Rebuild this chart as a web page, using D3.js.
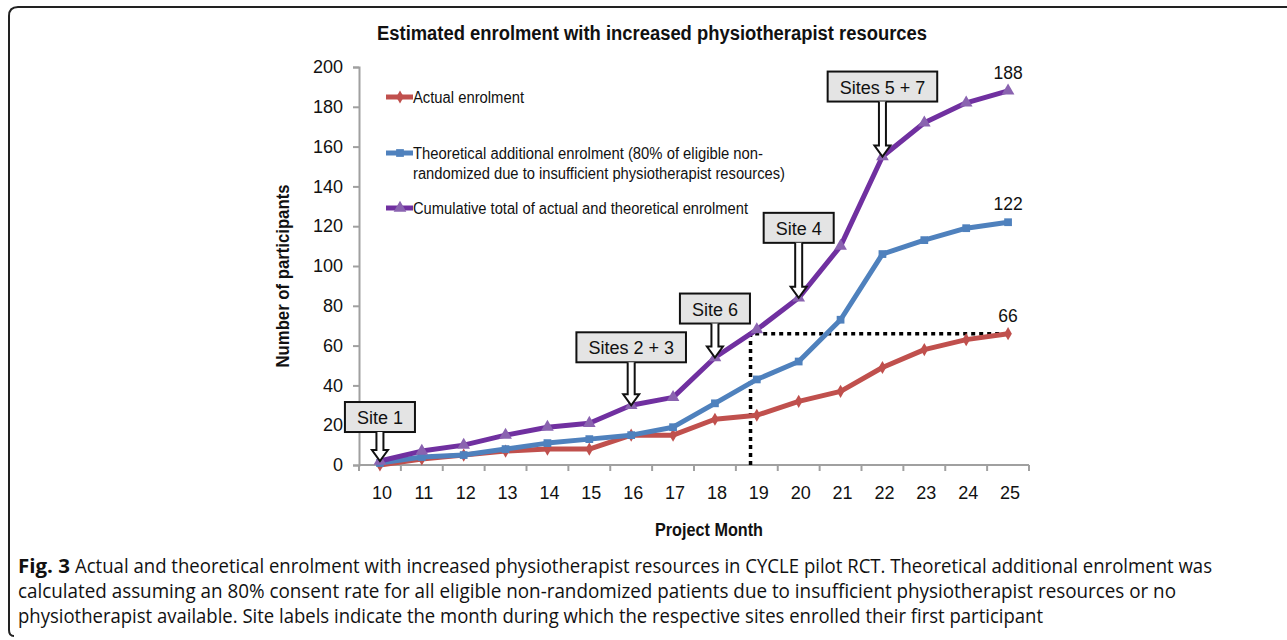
<!DOCTYPE html>
<html>
<head>
<meta charset="utf-8">
<script src="https://cdn.jsdelivr.net/npm/d3@7"></script>
<style>
	body { margin: 0; background: #fff; }
	text { font-family: "Liberation Sans", Arial, sans-serif; fill: #111; }
</style>
</head>
<body>
<div id="chart"></div>
<script>
var months = [10, 11, 12, 13, 14, 15, 16, 17, 18, 19, 20, 21, 22, 23, 24, 25];
var actual = [0, 3, 5, 7, 8, 8, 15, 15, 23, 25, 32, 37, 49, 58, 63, 66];
var theoretical = [1, 4, 5, 8, 11, 13, 15, 19, 31, 43, 52, 73, 106, 113, 119, 122];
var cumulative = [2, 7, 10, 15, 19, 21, 30, 34, 54, 68, 84, 110, 155, 172, 182, 188];
var yTicks = [0, 20, 40, 60, 80, 100, 120, 140, 160, 180, 200];
var siteLabels = ['Site 1', 'Sites 2 + 3', 'Site 6', 'Site 4', 'Sites 5 + 7'];
var siteMonths = [10, 16, 18, 20, 22];
var refMonth = 18.85;
var refValue = 66;
var legendLabels = [
	['Actual enrolment'],
	['Theoretical additional enrolment (80% of eligible non-', 'randomized due to insufficient physiotherapist resources)'],
	['Cumulative total of actual and theoretical enrolment']
];
var captionLines = [
	'Actual and theoretical enrolment with increased physiotherapist resources in CYCLE pilot RCT. Theoretical additional enrolment was',
	'calculated assuming an 80% consent rate for all eligible non-randomized patients due to insufficient physiotherapist resources or no',
	'physiotherapist available. Site labels indicate the month during which the respective sites enrolled their first participant'
];

var width = 1287, height = 640;

var svg = d3.select('#chart').append('svg')
	.attr('width', width)
	.attr('height', height);

// frame (left + top edges, rounded corner)
svg.append('path')
	.attr('d', 'M14,636 Q9,636 9,630 L9,16 Q9,7 18,7 L1287,7')
	.attr('fill', 'none')
	.attr('stroke', '#222')
	.attr('stroke-width', 2);

var x = d3.scaleLinear().domain([9.5, 25.5]).range([359, 1029]);
var y = d3.scaleLinear().domain([0, 200]).range([465, 67]);

var series = [
	{ values: actual, color: '#c0504d', marker: d3.symbolDiamond, mfill: '#c0504d', msize: 50 },
	{ values: theoretical, color: '#4f81bd', marker: d3.symbolSquare, mfill: '#4f81bd', msize: 60 },
	{ values: cumulative, color: '#7030a0', marker: d3.symbolTriangle, mfill: '#8a63b0', msize: 70 }
];

// title
svg.append('text')
	.attr('x', 652)
	.attr('y', 40)
	.attr('text-anchor', 'middle')
	.style('font-size', '19.5px')
	.style('font-weight', 'bold')
	.attr('textLength', 550)
	.attr('lengthAdjust', 'spacingAndGlyphs')
	.text('Estimated enrolment with increased physiotherapist resources');

// y axis
var yAxis = svg.append('g')
	.attr('transform', 'translate(359,0)')
	.call(d3.axisLeft(y).tickValues(yTicks).tickSize(6).tickPadding(10));
yAxis.select('.domain').attr('stroke', '#a0a0a0').attr('stroke-width', 2);
yAxis.selectAll('.tick line').attr('stroke', '#a0a0a0').attr('stroke-width', 2);
yAxis.selectAll('.tick text')
	.style('font-size', '18px')
	.style('font-family', '"Liberation Sans", Arial, sans-serif')
	.attr('fill', '#111');

// x axis: ticks at category boundaries, labels at centres
var bounds = months.map(function (m) { return m - 0.5; }).concat([25.5]);
var xAxis = svg.append('g')
	.attr('transform', 'translate(0,465)');
xAxis.append('line')
	.attr('x1', 359).attr('x2', 1029)
	.attr('stroke', '#a0a0a0').attr('stroke-width', 2);
xAxis.selectAll('.bt').data(bounds).enter().append('line')
	.attr('x1', function (d) { return x(d); })
	.attr('x2', function (d) { return x(d); })
	.attr('y1', 0).attr('y2', 6)
	.attr('stroke', '#a0a0a0').attr('stroke-width', 2);
xAxis.selectAll('.lbl').data(months).enter().append('text')
	.attr('x', function (d) { return x(d) + 2; })
	.attr('y', 34)
	.attr('text-anchor', 'middle')
	.style('font-size', '18px')
	.text(function (d) { return d; });

// axis titles
svg.append('text')
	.attr('transform', 'translate(289,276) rotate(-90)')
	.attr('text-anchor', 'middle')
	.style('font-size', '18px')
	.style('font-weight', 'bold')
	.attr('textLength', 183)
	.attr('lengthAdjust', 'spacingAndGlyphs')
	.text('Number of participants');

svg.append('text')
	.attr('x', 709)
	.attr('y', 536)
	.attr('text-anchor', 'middle')
	.style('font-size', '18px')
	.style('font-weight', 'bold')
	.attr('textLength', 108)
	.attr('lengthAdjust', 'spacingAndGlyphs')
	.text('Project Month');

// reference dotted lines
svg.append('path')
	.attr('d', 'M' + x(refMonth) + ',' + y(0) + 'V' + y(refValue) + 'H' + x(25))
	.attr('fill', 'none')
	.attr('stroke', '#000')
	.attr('stroke-width', 3.5)
	.attr('stroke-dasharray', '4,4');

// lines
var line = d3.line()
	.x(function (d, i) { return x(months[i]); })
	.y(function (d) { return y(d); });

series.forEach(function (s) {
	svg.append('path')
		.datum(s.values)
		.attr('d', line)
		.attr('fill', 'none')
		.attr('stroke', s.color)
		.attr('stroke-width', 5)
		.attr('stroke-linejoin', 'round');

	svg.selectAll(null).data(s.values).enter().append('path')
		.attr('d', d3.symbol().type(s.marker).size(s.msize))
		.attr('transform', function (d, i) { return 'translate(' + x(months[i]) + ',' + y(d) + ')'; })
		.attr('fill', s.mfill);
});

// end labels
series.forEach(function (s) {
	var last = s.values[s.values.length - 1];
	svg.append('text')
		.attr('x', x(25))
		.attr('y', y(last) - 12)
		.attr('text-anchor', 'middle')
		.style('font-size', '17.5px')
		.text(last);
});

// legend
var legendY = [97, 153, 208];
var legendWidths = [[111], [350, 372], [335]];
legendLabels.forEach(function (lines, i) {
	var s = series[i];
	var g = svg.append('g').attr('transform', 'translate(386,' + legendY[i] + ')');
	g.append('line')
		.attr('x1', 0).attr('x2', 27)
		.attr('stroke', s.color)
		.attr('stroke-width', 5);
	g.append('path')
		.attr('d', d3.symbol().type(s.marker).size(s.msize))
		.attr('transform', 'translate(14,0)')
		.attr('fill', s.mfill);
	lines.forEach(function (t, j) {
		g.append('text')
			.attr('x', 27)
			.attr('y', 6 + j * 20)
			.style('font-size', '16px')
			.attr('textLength', legendWidths[i][j])
			.attr('lengthAdjust', 'spacingAndGlyphs')
			.text(t);
	});
});

// site callouts
var gaps = [59, 73, 64, 85, 85];
siteLabels.forEach(function (lbl, i) {
	var m = siteMonths[i];
	var px = x(m), py = y(cumulative[months.indexOf(m)]);
	var g = svg.append('g');
	var t = g.append('text')
		.attr('x', px)
		.attr('text-anchor', 'middle')
		.style('font-size', '18px')
		.text(lbl);
	var w = t.node().getComputedTextLength() + 24;
	var top = py - gaps[i], h = 30;
	t.attr('y', top + 22);
	g.insert('rect', 'text')
		.attr('x', px - w / 2)
		.attr('y', top)
		.attr('width', w)
		.attr('height', h)
		.attr('fill', '#e4e4e4')
		.attr('stroke', '#111')
		.attr('stroke-width', 2);
	var by = top + h, ty = py;
	g.append('path')
		.attr('d', 'M' + (px - 3.5) + ',' + by + 'V' + (ty - 11) + 'H' + (px - 8) +
			'L' + px + ',' + ty + 'L' + (px + 8) + ',' + (ty - 11) + 'H' + (px + 3.5) + 'V' + by)
		.attr('fill', '#fff')
		.attr('stroke', '#111')
		.attr('stroke-width', 2)
		.attr('stroke-linejoin', 'miter');
});

// caption
var capY = [573, 598, 623];
var capEnds = [1212, 1176, 1043];
captionLines.forEach(function (t, i) {
	var start = 18;
	if (i === 0) {
		svg.append('text')
			.attr('x', 18)
			.attr('y', capY[i])
			.style('font-family', '"Open Sans", sans-serif')
			.style('font-size', '19.5px')
			.style('font-weight', 'bold')
			.attr('textLength', 52)
			.attr('lengthAdjust', 'spacingAndGlyphs')
			.text('Fig. 3');
		start = 75;
	}
	svg.append('text')
		.attr('x', start)
		.attr('y', capY[i])
		.style('font-family', '"Open Sans", sans-serif')
		.style('font-size', '19.5px')
		.attr('fill', '#222')
		.attr('textLength', capEnds[i] - start)
		.attr('lengthAdjust', 'spacingAndGlyphs')
		.text(t);
});
</script>
</body>
</html>
